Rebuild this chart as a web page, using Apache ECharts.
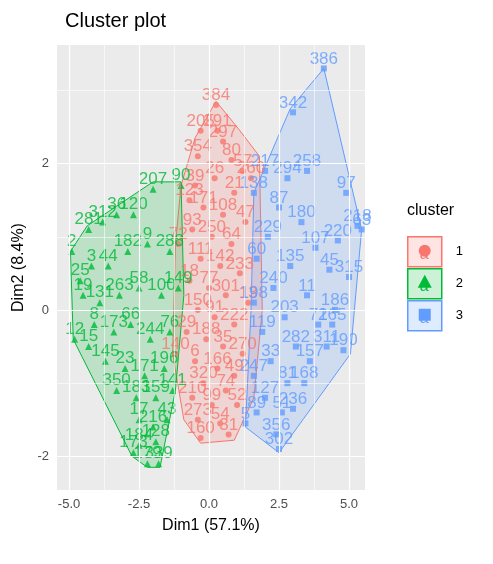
<!DOCTYPE html><html><head><meta charset="utf-8">
<script src="https://cdn.jsdelivr.net/npm/echarts@6/dist/echarts.min.js"></script>
<style>html,body{margin:0;padding:0;background:#fff}#c{width:493px;height:564px}</style></head>
<body><div id="c"></div><script>
const xTicks=[-5,-2.5,0,2.5,5], xMinor=[-3.75,-1.25,1.25,3.75];
const yTicks=[-2,0,2], yMinor=[-1,1,3];
const red=[[0.25,2.8,384],[-0.3,2.45,205],[0.3,2.45,291],[0.5,2.3,297],[-0.4,2.1,354],[0.8,2.05,80],[1.2,1.9,57],[-0.5,1.7,39],[0.2,1.8,26],[0.9,1.6,21],[-0.2,1.4,171],[0.5,1.3,108],[1.3,1.2,47],[-0.6,1.1,93],[0.1,1.0,250],[0.8,0.9,64],[-0.3,0.7,111],[0.4,0.6,142],[1.1,0.5,233],[-0.7,0.4,18],[0.0,0.3,77],[0.6,0.2,301],[1.4,0.1,13],[-0.4,0.0,150],[0.2,-0.1,91],[0.9,-0.2,222],[-0.8,-0.3,29],[-0.1,-0.4,188],[0.5,-0.5,35],[1.2,-0.6,270],[-0.5,-0.7,6],[0.3,-0.8,166],[0.9,-0.9,49],[-0.2,-1.0,320],[0.6,-1.1,74],[-0.6,-1.2,210],[0.1,-1.3,99],[1.0,-1.3,52],[-0.4,-1.5,273],[0.4,-1.55,54],[-0.3,-1.75,160],[0.7,-1.7,31],[1.5,1.8,260],[-0.7,1.5,123],[-1.1,0.9,72],[-1.2,-0.6,140]];
const blue=[[4.1,3.3,386],[3.0,2.7,342],[3.5,1.9,258],[4.9,1.6,97],[2.8,1.8,294],[2.0,1.9,217],[1.6,1.6,138],[2.5,1.4,87],[3.3,1.2,180],[4.6,0.95,220],[5.3,1.15,218],[2.1,1.0,229],[3.8,0.85,107],[1.7,0.7,60],[2.9,0.6,135],[4.3,0.55,45],[5.0,0.45,315],[2.3,0.3,240],[3.5,0.2,11],[1.6,0.1,198],[4.5,0.0,186],[2.7,-0.1,203],[3.9,-0.2,71],[1.9,-0.3,119],[4.4,-0.2,265],[3.1,-0.5,282],[4.2,-0.5,311],[2.2,-0.7,33],[3.6,-0.7,157],[1.6,-0.9,247],[2.8,-1.0,81],[3.4,-1.0,168],[2.0,-1.2,127],[2.6,-1.4,51],[3.0,-1.35,236],[1.7,-1.4,89],[2.4,-1.7,356],[2.5,-1.9,302],[1.3,-1.55,5],[4.8,-0.55,190],[5.45,1.1,63]];
const green=[[-4.8,-0.4,12],[-4.9,0.8,2],[-4.3,1.1,281],[-3.8,1.2,312],[-3.3,1.3,36],[-2.7,1.3,120],[-2.0,1.65,207],[-1.0,1.7,90],[-4.2,0.6,3],[-3.6,0.6,44],[-2.9,0.8,182],[-2.2,0.9,9],[-1.4,0.8,288],[-4.5,0.2,19],[-3.9,0.1,131],[-3.2,0.2,263],[-2.5,0.3,58],[-1.7,0.2,100],[-1.1,0.3,149],[-4.1,-0.2,8],[-3.4,-0.3,173],[-2.8,-0.2,66],[-2.1,-0.4,244],[-1.4,-0.3,76],[-3.7,-0.7,145],[-3.0,-0.8,23],[-2.3,-0.9,171],[-1.6,-0.8,196],[-3.3,-1.1,350],[-2.6,-1.2,183],[-1.9,-1.2,159],[-1.3,-1.1,141],[-2.5,-1.5,17],[-2.0,-1.6,216],[-1.5,-1.5,43],[-2.5,-1.85,184],[-1.9,-1.8,128],[-2.7,-1.95,173],[-2.2,-2.1,179],[-1.8,-2.1,339],[-4.3,-0.5,15],[-4.6,0.4,25]];
const redHull=[[0.25,2.85],[1.0,2.5],[1.8,2.1],[1.9,0.0],[1.6,-1.2],[0.9,-1.78],[-0.3,-1.82],[-0.9,-1.5],[-1.3,-0.6],[-1.2,0.9],[-1.0,1.7],[-0.5,2.35]];
const blueHull=[[4.1,3.3],[5.45,1.1],[5.05,-0.6],[2.5,-1.95],[1.3,-1.6],[1.5,0.0],[1.6,1.6],[2.9,2.75]];
const greenHull=[[-2.0,1.75],[-1.0,1.75],[-0.9,0.2],[-1.2,-1.1],[-1.75,-2.15],[-2.2,-2.15],[-2.75,-2.0],[-4.85,-0.4],[-4.95,0.8],[-4.35,1.15]];
const C=['#F8766D','#00BA38','#619CFF'];
function hull(pts,col){return {type:'custom',data:[0],silent:true,z:1,renderItem:(p,api)=>({type:'polygon',shape:{points:pts.map(q=>api.coord(q))},style:{fill:col,opacity:1,fillOpacity:0.2,stroke:col,lineWidth:1}}),
 itemStyle:{color:col}};}
function hullS(pts,col){return {type:'custom',data:[0],silent:true,z:1,renderItem:(p,api)=>({type:'polygon',shape:{points:pts.map(q=>api.coord(q))},style:{fill:col+'33',stroke:col,lineWidth:1}})};}
function pts(d,col,sym,sz){return {type:'scatter',data:d,symbol:sym,symbolSize:sz,z:3,itemStyle:{color:col},
 label:{show:true,formatter:p=>p.value[2],color:col,fontSize:17,fontFamily:'Liberation Sans',position:'top',distance:-2}};}
const gl=(v,axis,w)=>v.map(t=>({[axis]:t,lineStyle:{color:'#fff',width:w,type:'solid'}}));
const ch=echarts.init(document.getElementById('c'),null,{renderer:'canvas'});
ch.setOption({animation:false,backgroundColor:'#fff',
title:{text:'Cluster plot',left:60,top:6,textStyle:{fontSize:20,fontWeight:'normal',color:'#000',fontFamily:'Liberation Sans'}},
grid:{left:57,right:128,top:45,bottom:74,show:true,backgroundColor:'#EBEBEB',borderWidth:0},
xAxis:{type:'value',min:-5.43,max:5.57,splitLine:{show:false},axisLine:{show:false},
 axisTick:{show:true,customValues:xTicks,length:4,lineStyle:{color:'#333'}},
 axisLabel:{customValues:xTicks,formatter:v=>v.toFixed(1),color:'#4D4D4D',fontSize:13,fontFamily:'Liberation Sans'},
 name:'Dim1 (57.1%)',nameLocation:'middle',nameGap:28,nameTextStyle:{fontSize:16,color:'#000',fontFamily:'Liberation Sans'}},
yAxis:{type:'value',min:-2.46,max:3.62,splitLine:{show:false},axisLine:{show:false},
 axisTick:{show:true,customValues:yTicks,length:4,lineStyle:{color:'#333'}},
 axisLabel:{customValues:yTicks,color:'#4D4D4D',fontSize:13,fontFamily:'Liberation Sans'},
 name:'Dim2 (8.4%)',nameLocation:'middle',nameGap:30,nameTextStyle:{fontSize:16,color:'#000',fontFamily:'Liberation Sans'}},
series:[
 {type:'line',data:[],z:0,markLine:{silent:true,symbol:'none',label:{show:false},
  data:[...gl(xMinor,'xAxis',0.6),...gl(yMinor,'yAxis',0.6),...gl(xTicks,'xAxis',1.2),...gl(yTicks,'yAxis',1.2)]}},
 hullS(redHull,C[0]),hullS(greenHull,C[1]),hullS(blueHull,C[2]),
 pts(red,C[0],'circle',6),pts(green,C[1],'triangle',7),pts(blue,C[2],'rect',6)],
graphic:[
 {type:'text',left:407,top:203,style:{text:'cluster',fontSize:16,fill:'#000',fontFamily:'Liberation Sans'}},
 ...[0,1,2].map(i=>({type:'group',left:407,top:236+i*32,children:[
  {type:'rect',shape:{x:0,y:0,width:34,height:30},style:{fill:C[i]+'33',stroke:C[i],lineWidth:1.5}},
  {type:'text',x:12,y:10,style:{text:'a',fontSize:16,fill:C[i],fontFamily:'Liberation Sans'}},
  i==0?{type:'circle',shape:{cx:17,cy:14,r:6},style:{fill:C[i]}}:
  i==1?{type:'polygon',shape:{points:[[17,6],[24,19],[10,19]]},style:{fill:C[i]}}:
  {type:'rect',shape:{x:11,y:8,width:12,height:12},style:{fill:C[i]}},
  {type:'text',x:48,y:8,style:{text:String(i+1),fontSize:13,fill:'#000',fontFamily:'Liberation Sans'}}]}))]
});
</script></body></html>
